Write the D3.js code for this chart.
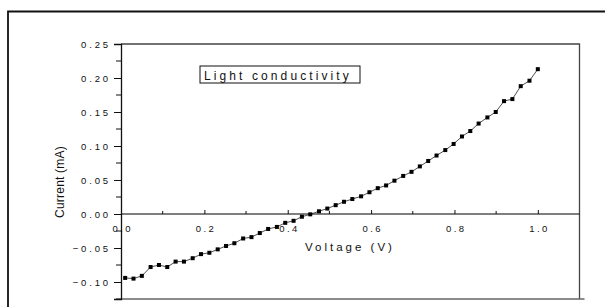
<!DOCTYPE html>
<html>
<head>
<meta charset="utf-8">
<script src="https://cdn.jsdelivr.net/npm/d3@7"></script>
<style>
  body { margin: 0; background: #fff; }
  svg { display: block; font-family: "Liberation Sans", Arial, sans-serif; }
</style>
</head>
<body>
<script>
// voltage (V) and current (mA)
const voltage = [0.010, 0.030, 0.050, 0.071, 0.091, 0.111, 0.131, 0.151, 0.172, 0.192,
                 0.212, 0.232, 0.252, 0.272, 0.293, 0.313, 0.333, 0.353, 0.374, 0.394,
                 0.414, 0.434, 0.454, 0.475, 0.495, 0.515, 0.535, 0.555, 0.576, 0.596,
                 0.616, 0.636, 0.656, 0.677, 0.697, 0.717, 0.737, 0.757, 0.778, 0.798,
                 0.818, 0.838, 0.858, 0.879, 0.899, 0.919, 0.939, 0.959, 0.980, 1.000];
const current = [-0.094, -0.095, -0.091, -0.078, -0.075, -0.078, -0.070, -0.070, -0.065, -0.059,
                 -0.057, -0.052, -0.047, -0.043, -0.036, -0.034, -0.028, -0.022, -0.019, -0.013,
                 -0.010, -0.004, -0.0005, 0.004, 0.008, 0.013, 0.018, 0.022, 0.026, 0.032,
                 0.038, 0.042, 0.049, 0.056, 0.062, 0.070, 0.078, 0.086, 0.094, 0.103,
                 0.114, 0.122, 0.133, 0.142, 0.150, 0.166, 0.169, 0.188, 0.196, 0.213];

const xTicks = [0, 0.2, 0.4, 0.6, 0.8, 1.0];
const xMinor = [0.1, 0.3, 0.5, 0.7, 0.9];
const yTicks = [-0.10, -0.05, 0.00, 0.05, 0.10, 0.15, 0.20, 0.25];
const yMinor = [-0.125, -0.075, -0.025, 0.025, 0.075, 0.125, 0.175, 0.225];

const legendText = "Light conductivity";
const xTitle = "Voltage (V)";
const yTitle = "Current (mA)";

const width = 605,
      height = 307;

const x = d3.scaleLinear().domain([0, 1.1]).range([121, 579.5]);
const y = d3.scaleLinear().domain([-0.125, 0.25]).range([299, 44]);

const svg = d3.select("body").append("svg")
    .attr("width", width)
    .attr("height", height);

// outer frame (cut off at right and bottom)
svg.append("path")
    .attr("d", "M8,320V11.5H620")
    .attr("fill", "none")
    .attr("stroke", "#111")
    .attr("stroke-width", 1.8);

// plot box
svg.append("path")
    .attr("d", `M${x(0)},${y(0.25)}H${x(1.1)}V${y(-0.125)}`)
    .attr("fill", "none")
    .attr("stroke", "#444")
    .attr("stroke-width", 1.3);
svg.append("line")
    .attr("x1", x(0)).attr("x2", x(1.1) + 5)
    .attr("y1", y(-0.125)).attr("y2", y(-0.125))
    .attr("stroke", "#666")
    .attr("stroke-width", 1.3);

// y axis
const yAxis = svg.append("g")
    .attr("transform", `translate(${x(0)},0)`)
    .call(d3.axisLeft(y).tickValues(yTicks).tickSize(7).tickFormat(d3.format(".2f")))
    .call(g => g.select(".domain").attr("stroke", "#111").attr("stroke-width", 1.3));
yAxis.selectAll(".tick line").attr("stroke", "#111");
yAxis.selectAll(".tick text")
    .attr("font-size", 9.5)
    .attr("letter-spacing", 2.8)
    .attr("x", -13 + 2.8)
    .attr("fill", "#111")
    .attr("font-family", "Liberation Sans, Arial, sans-serif");

svg.append("g")
    .selectAll("line")
    .data(yMinor)
    .join("line")
    .attr("x1", x(0) - 5).attr("x2", x(0))
    .attr("y1", d => y(d)).attr("y2", d => y(d))
    .attr("stroke", "#111");

// x axis on the zero line
const xAxis = svg.append("g")
    .attr("transform", `translate(0,${y(0)})`)
    .call(d3.axisTop(x).tickValues(xTicks).tickSize(4).tickFormat(d3.format(".1f")))
    .call(g => g.select(".domain").attr("d", `M${x(0)},0H${x(1.1)}`).attr("stroke", "#000").attr("stroke-width", 1.2));
xAxis.selectAll(".tick line").attr("stroke", "#111");
xAxis.selectAll(".tick text")
    .attr("font-size", 9.5)
    .attr("letter-spacing", 2.4)
    .attr("y", 18)
    .attr("dx", 1.2)
    .attr("fill", "#111")
    .attr("font-family", "Liberation Sans, Arial, sans-serif");

svg.append("g")
    .selectAll("line")
    .data(xMinor)
    .join("line")
    .attr("x1", d => x(d)).attr("x2", d => x(d))
    .attr("y1", y(0) - 3).attr("y2", y(0))
    .attr("stroke", "#111");

// axis titles
svg.append("text")
    .attr("x", 350)
    .attr("y", 251)
    .attr("text-anchor", "middle")
    .attr("font-size", 11.5)
    .attr("letter-spacing", 3)
    .attr("fill", "#111")
    .text(xTitle);

svg.append("text")
    .attr("transform", "translate(64,182) rotate(-90)")
    .attr("text-anchor", "middle")
    .attr("font-size", 12)
    .attr("letter-spacing", 0.2)
    .attr("fill", "#111")
    .text(yTitle);

// legend box
svg.append("rect")
    .attr("x", 200).attr("y", 66)
    .attr("width", 160).attr("height", 17)
    .attr("fill", "none")
    .attr("stroke", "#111")
    .attr("stroke-width", 1);
svg.append("text")
    .attr("x", 204)
    .attr("y", 79.5)
    .attr("font-size", 12)
    .attr("letter-spacing", 3.1)
    .attr("fill", "#111")
    .text(legendText);

// data
const points = voltage.map((v, i) => [v, current[i]]);

svg.append("path")
    .datum(points)
    .attr("fill", "none")
    .attr("stroke", "#222")
    .attr("stroke-width", 0.8)
    .attr("d", d3.line().x(d => x(d[0])).y(d => y(d[1])));

svg.append("g")
    .selectAll("rect")
    .data(points)
    .join("rect")
    .attr("x", d => x(d[0]) - 2)
    .attr("y", d => y(d[1]) - 2)
    .attr("width", 4)
    .attr("height", 4)
    .attr("fill", "#000");
</script>
</body>
</html>
